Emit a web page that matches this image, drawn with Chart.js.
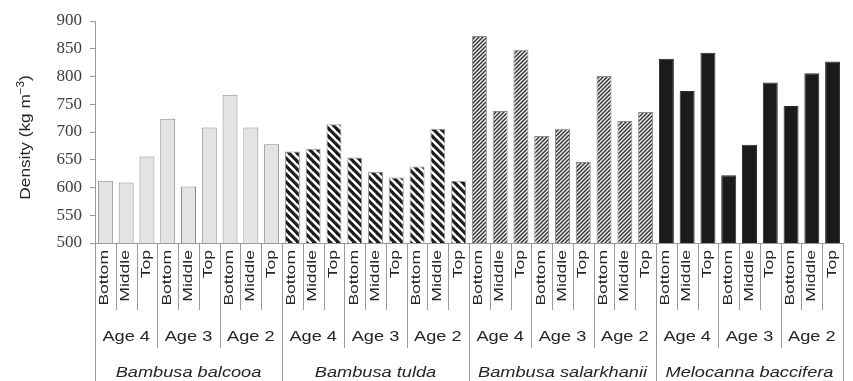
<!DOCTYPE html>
<html>
<head>
<meta charset="utf-8">
<script src="https://cdn.jsdelivr.net/npm/chart.js@4.4.1/dist/chart.umd.min.js"></script>
<style>
  html, body { margin: 0; padding: 0; background: #fff; }
  #wrap { width: 853px; height: 381px; position: relative; }
</style>
</head>
<body>
<div id="wrap"><canvas id="c" width="853" height="381"></canvas></div>
<script>
// Category levels of the x axis
const species = ['Bambusa balcooa', 'Bambusa tulda', 'Bambusa salarkhanii', 'Melocanna baccifera'];
const ages = ['Age 4', 'Age 3', 'Age 2'];
const positions = ['Bottom', 'Middle', 'Top'];

// Density (kg m-3), ordered Age 4 / Age 3 / Age 2, each Bottom / Middle / Top
const balcooa     = [612, 609, 656, 724, 602, 708, 767, 708, 678];
const tulda       = [665, 670, 714, 654, 628, 618, 638, 706, 612];
const salarkhanii = [873, 738, 848, 693, 706, 646, 801, 720, 736];
const melocanna   = [832, 774, 843, 622, 677, 789, 747, 806, 827];

const yTicks = [500, 550, 600, 650, 700, 750, 800, 850, 900];

const seriesBySpecies = [balcooa, tulda, salarkhanii, melocanna];

// Fill patterns
function stripePattern(size, lineW, fg, bg, dir) {
  const c = document.createElement('canvas');
  c.width = size; c.height = size;
  const g = c.getContext('2d');
  g.fillStyle = bg; g.fillRect(0, 0, size, size);
  g.strokeStyle = fg; g.lineWidth = lineW; g.lineCap = 'square';
  for (let k = -1; k <= 1; k++) {
    g.beginPath();
    if (dir === 'back') { g.moveTo(k * size, 0); g.lineTo(k * size + size, size); }
    else { g.moveTo(k * size, size); g.lineTo(k * size + size, 0); }
    g.stroke();
  }
  return g.createPattern(c, 'repeat');
}
const fills = [
  '#e3e3e3',
  stripePattern(8, 3.2, '#1e1e1e', '#ffffff', 'back'),
  stripePattern(4, 1.5, '#363636', '#f2f2f2', 'fwd'),
  '#1b1b1b'
];
const borders = ['#8c8c8c', '#9a9a9a', '#8a8a8a', '#2a2a2a'];

// Flatten into one category list
const labels = [], values = [], bg = [], bd = [];
species.forEach((sp, s) => {
  ages.forEach((ag, a) => {
    positions.forEach((p, q) => {
      labels.push(p);
      values.push(seriesBySpecies[s][a * positions.length + q]);
      bg.push(fills[s]);
      bd.push(borders[s]);
    });
  });
});

const AXIS = '#9a9a9a';
const TEXT = '#262626';
const SANS = '"Liberation Sans", Arial, sans-serif';

// Draws a string stretched along its reading direction
function stretchedText(ctx, text, x, y, rot, sx, align, baseline, font) {
  ctx.save();
  ctx.translate(x, y);
  ctx.rotate(rot);
  ctx.scale(sx, 1);
  ctx.font = font;
  ctx.textAlign = align;
  ctx.textBaseline = baseline;
  ctx.fillText(text, 0, 0);
  ctx.restore();
}

const multiLevelAxis = {
  id: 'multiLevelAxis',
  afterDraw(chart) {
    const { ctx, chartArea: { left, right, bottom }, scales: { x } } = chart;
    const n = labels.length;
    const step = x.getPixelForValue(1) - x.getPixelForValue(0);
    const per = positions.length, perSp = positions.length * ages.length;
    const H = chart.height;
    ctx.save();
    ctx.strokeStyle = AXIS;
    ctx.lineWidth = 1;
    // axis line
    ctx.beginPath();
    ctx.moveTo(left, Math.round(bottom) + 0.5);
    ctx.lineTo(right, Math.round(bottom) + 0.5);
    ctx.stroke();
    // separators between categories
    for (let i = 0; i <= n; i++) {
      const xx = Math.round(x.getPixelForValue(i) - step / 2) + 0.5;
      let end = 310;
      if (i % perSp === 0) end = H;
      else if (i % per === 0) end = 348;
      ctx.beginPath();
      ctx.moveTo(xx, bottom);
      ctx.lineTo(xx, end);
      ctx.stroke();
    }
    ctx.fillStyle = TEXT;
    // position labels (rotated)
    labels.forEach((lab, i) => {
      const cx = x.getPixelForValue(i);
      stretchedText(ctx, lab, cx + 3, 250, -Math.PI / 2, 1.35, 'right', 'alphabetic', '13px ' + SANS);
    });
    // age labels
    for (let g = 0; g < n / per; g++) {
      const cx = (x.getPixelForValue(g * per) + x.getPixelForValue(g * per + per - 1)) / 2;
      stretchedText(ctx, ages[g % ages.length], cx, 341, 0, 1.3, 'center', 'alphabetic', '14px ' + SANS);
    }
    // species labels
    species.forEach((sp, s) => {
      const cx = (x.getPixelForValue(s * perSp) + x.getPixelForValue(s * perSp + perSp - 1)) / 2;
      stretchedText(ctx, sp, cx, 377, 0, 1.3, 'center', 'alphabetic', 'italic 14px ' + SANS);
    });
    // y axis title with superscript
    ctx.save();
    ctx.translate(30, 137.5);
    ctx.rotate(-Math.PI / 2);
    ctx.scale(1.15, 1);
    ctx.textBaseline = 'alphabetic';
    ctx.textAlign = 'left';
    const main = '15px ' + SANS, sup = '10px ' + SANS;
    ctx.font = main; const w1 = ctx.measureText('Density (kg m').width;
    ctx.font = sup; const w2 = ctx.measureText('\u22123').width;
    ctx.font = main; const w3 = ctx.measureText(')').width;
    let sx = -(w1 + w2 + w3) / 2;
    ctx.font = main; ctx.fillText('Density (kg m', sx, 0); sx += w1;
    ctx.font = sup; ctx.fillText('\u22123', sx, -6); sx += w2;
    ctx.font = main; ctx.fillText(')', sx, 0);
    ctx.restore();
    ctx.restore();
  }
};

new Chart(document.getElementById('c'), {
  type: 'bar',
  data: {
    labels: labels,
    datasets: [{
      data: values,
      backgroundColor: bg,
      borderColor: bd,
      borderWidth: 1,
      categoryPercentage: 1,
      barPercentage: 0.72
    }]
  },
  options: {
    responsive: false,
    animation: false,
    events: [],
    layout: { padding: { top: 21, right: 10, bottom: 138, left: 0 } },
    plugins: { legend: { display: false }, tooltip: { enabled: false } },
    scales: {
      x: { display: false },
      y: {
        min: yTicks[0],
        max: yTicks[yTicks.length - 1],
        afterFit(scale) { scale.width = 95; },
        afterBuildTicks(scale) { scale.ticks = yTicks.map(v => ({ value: v })); },
        border: { display: true, color: AXIS, width: 1 },
        grid: { display: true, drawOnChartArea: false, drawTicks: true, tickLength: 5, color: AXIS },
        ticks: {
          padding: 8,
          color: '#404040',
          font: { family: '"Liberation Serif", "Times New Roman", serif', size: 17 }
        }
      }
    }
  },
  plugins: [multiLevelAxis]
});
</script>
</body>
</html>
